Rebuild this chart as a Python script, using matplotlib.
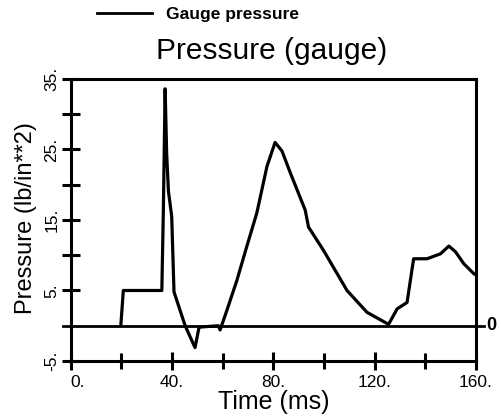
import numpy as np
import matplotlib.pyplot as plt

plt.rcParams['font.family'] = ['Liberation Sans', 'DejaVu Sans']

# time (ms) and gauge pressure (lb/in**2)
time_ms = [19.8, 20.8, 36.0, 36.6, 37.3, 37.9, 38.6, 39.9, 40.8, 45.2, 49.1, 50.7,
           58.3, 59.0, 61.6, 65.6, 69.5, 73.5, 77.5, 80.7, 83.4, 86.7, 92.6, 93.9,
           99.8, 109.1, 117.0, 125.5, 128.9, 132.8, 135.4, 140.7, 146.0, 149.3,
           151.9, 155.2, 159.1, 160.0]
pressure = [0.0, 5.0, 5.0, 16.4, 33.6, 24.5, 19.1, 15.5, 4.8, 0.0, -3.1, -0.2,
            0.0, -0.6, 2.1, 6.4, 11.2, 16.0, 22.6, 26.0, 24.8, 21.7, 16.4, 14.0,
            10.7, 5.0, 1.9, 0.2, 2.4, 3.3, 9.5, 9.5, 10.2, 11.3,
            10.5, 8.8, 7.4, 7.2]

xticks = [0, 40, 80, 120, 160]
xlabels = ['0.', '40.', '80.', '120.', '160.']
yticks = [-5, 5, 15, 25, 35]
ylabels = ['-5.', '5.', '15.', '25.', '35.']

fig = plt.figure(figsize=(5.01, 4.2), dpi=100)
ax = fig.add_axes([0.141, 0.1405, 0.809, 0.6715])

ax.plot(time_ms, pressure, color='black', lw=2.3, solid_joinstyle='round')
ax.axhline(0, xmin=-0.02, xmax=1.02, color='black', lw=2.0, clip_on=False)
ax.text(1.026, 0, '0', transform=ax.get_yaxis_transform(), va='center', ha='left',
        fontsize=13, fontweight='bold')

ax.set_xlim(0, 160)
ax.set_ylim(-5, 35)
ax.set_xticks(xticks)
ax.set_xticklabels(xlabels, fontsize=12.5)
ax.set_xticks([20, 60, 100, 140], minor=True)
ax.set_yticks(yticks)
ax.set_yticklabels(ylabels, fontsize=12.5, rotation=90, va='center')
ax.set_yticks([10, 20, 30], minor=True)
ax.get_xticklabels()[0].set_horizontalalignment('left')

ax.tick_params(which='both', direction='inout', width=2.2, length=13, color='black')
ax.tick_params(axis='x', which='minor', length=11)
ax.tick_params(axis='y', pad=1.5)
for s in ax.spines.values():
    s.set_linewidth(2.2)

ax.set_xlabel('Time (ms)', fontsize=18, labelpad=0)
ax.set_ylabel('Pressure (lb/in**2)', fontsize=17)
ax.yaxis.set_label_coords(-0.083, 0.507)

fig.text(0.543, 1 - 51/420, 'Pressure (gauge)', fontsize=21.5, ha='center', va='center')
fig.lines.append(plt.Line2D([97/501, 152/501], [1 - 13/420, 1 - 13/420],
                            transform=fig.transFigure, color='black', lw=2))
fig.text(166/501, 1 - 14/420, 'Gauge pressure', fontsize=12.5, fontweight='bold',
         ha='left', va='center')

plt.savefig('out.png', dpi=100)
